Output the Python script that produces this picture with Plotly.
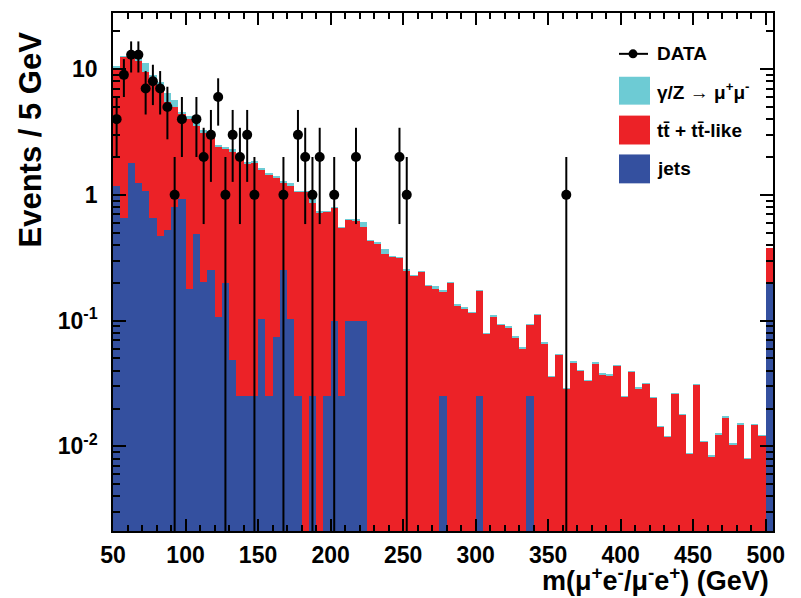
import numpy as np
import plotly.graph_objects as go

# ---- data (5 GeV bins from 50 to 505 GeV) ----
bin_low = list(range(50, 505, 5))

# top of full stack (jets + ttbar + DY)
total = [10.5, 12.8, 13.1, 12.5, 11.2, 9.0, 7.9, 6.4, 5.7, 4.6,
         4.2, 3.7, 3.3, 3.1, 2.5, 2.4, 2.3, 2.0, 1.84, 1.87,
         1.63, 1.49, 1.40, 1.28, 1.25, 1.07, 1.08, 0.92, 0.74, 0.74,
         0.80, 0.56, 0.64, 0.64, 0.61, 0.44, 0.42, 0.37, 0.326, 0.32,
         0.256, 0.232, 0.247, 0.191, 0.188, 0.174, 0.202, 0.135, 0.128, 0.118,
         0.176, 0.080, 0.110, 0.094, 0.090, 0.075, 0.062, 0.094, 0.113, 0.067,
         0.0365, 0.0547, 0.029, 0.0476, 0.0405, 0.0338, 0.0466, 0.038, 0.0375, 0.0445,
         0.0253, 0.040, 0.0294, 0.0322, 0.0249, 0.0146, 0.0122, 0.0268, 0.0182, 0.0089,
         0.0314, 0.0111, 0.0085, 0.0128, 0.0175, 0.0106, 0.0153, 0.0081, 0.0151, 0.0123,
         0.38]

# top of jets + ttbar stack
red_top = [10.0, 12.5, 12.8, 11.5, 9.5, 8.0, 6.8, 5.5, 5.0, 4.4,
           4.0, 3.5, 3.1, 3.0, 2.4, 2.3, 2.2, 1.95, 1.75, 1.8,
           1.58, 1.45, 1.36, 1.24, 1.18, 1.05, 1.05, 0.86, 0.72, 0.73,
           0.79, 0.55, 0.63, 0.62, 0.56, 0.43, 0.41, 0.336, 0.32, 0.315,
           0.25, 0.228, 0.243, 0.187, 0.180, 0.170, 0.198, 0.131, 0.124, 0.114,
           0.171, 0.078, 0.107, 0.092, 0.088, 0.073, 0.060, 0.092, 0.110, 0.065,
           0.0355, 0.0533, 0.0284, 0.0464, 0.0395, 0.0328, 0.0452, 0.0368, 0.0365, 0.0433,
           0.0247, 0.0388, 0.0286, 0.0314, 0.0243, 0.0142, 0.0118, 0.0260, 0.0177, 0.0087,
           0.0306, 0.0108, 0.0083, 0.0124, 0.0168, 0.0103, 0.0148, 0.0079, 0.0147, 0.0120,
           0.38]

# jets contribution
jets = [1.17, 0.66, 1.8, 1.24, 1.08, 0.66, 0.47, 0.53, 0.80, 0.92,
        0.178, 0.49, 0.203, 0.254, 0.106, 0.2, 0.049, 0.025, 0.025, 0.025,
        0.103, 0.025, 0.074, 0.254, 0.103, 0.025, 0, 0.025, 0, 0.025,
        0.1, 0.025, 0.1, 0.1, 0.1, 0, 0, 0, 0, 0,
        0, 0, 0, 0, 0, 0.025, 0, 0, 0, 0,
        0.025, 0, 0, 0, 0, 0, 0, 0.025, 0, 0,
        0, 0, 0, 0, 0, 0, 0, 0, 0, 0,
        0, 0, 0, 0, 0, 0, 0, 0, 0, 0,
        0, 0, 0, 0, 0, 0, 0, 0, 0, 0,
        0.2]

# observed events per bin
data = [4, 9, 13, 13, 7, 8, 7, 5, 1, 4,
        0, 4, 2, 3, 6, 1, 3, 2, 3, 1,
        0, 0, 0, 1, 0, 3, 2, 1, 2, 0,
        1, 0, 0, 2, 0, 0, 0, 0, 0, 2,
        1] + [0] * 21 + [1] + [0] * 28

x_ticks = [50, 100, 150, 200, 250, 300, 350, 400, 450, 500]
y_tickvals = [0.01, 0.1, 1, 10]
y_ticktext = ["10<sup>-2</sup>", "10<sup>-1</sup>", "1", "10"]

# ---- styling ----
C_DY = "#6dcbd4"
C_TT = "#ec2227"
C_JETS = "#34509f"
FONT = "Liberation Sans"

centers = [b + 2.5 for b in bin_low]

fig = go.Figure()
for vals, col in [(total, C_DY), (red_top, C_TT), (jets, C_JETS)]:
    fig.add_trace(go.Bar(x=centers, y=vals, width=5, marker=dict(color=col, line=dict(width=0)),
                         showlegend=False, hoverinfo="skip"))

dx, dy, eplus, eminus = [], [], [], []
for c, n in zip(centers, data):
    if n > 0:
        dx.append(c)
        dy.append(n)
        eplus.append(np.sqrt(n))
        eminus.append(min(np.sqrt(n), n - 1e-4))
fig.add_trace(go.Scatter(x=dx, y=dy, mode="markers",
                         marker=dict(color="black", size=10),
                         error_y=dict(type="data", array=eplus, arrayminus=eminus,
                                      color="black", thickness=2, width=0),
                         showlegend=False, hoverinfo="skip"))

W, H = 801, 598
L, R, T, B = 113, 28, 11, 67
PW, PH = W - L - R, H - T - B


def px(x):
    return (x - L) / PW


def py(y):
    return (H - B - y) / PH


shapes = []
annotations = []
# legend: DATA
shapes.append(dict(type="line", xref="paper", yref="paper", x0=px(619), x1=px(648), y0=py(52), y1=py(52),
                   line=dict(color="black", width=2)))
shapes.append(dict(type="circle", xref="paper", yref="paper", x0=px(628.5), x1=px(637.5), y0=py(56.5), y1=py(47.5),
                   fillcolor="black", line=dict(color="black", width=0)))
for (y0, y1, col) in [(75, 103, C_DY), (114, 143, C_TT), (153, 182, C_JETS)]:
    shapes.append(dict(type="rect", xref="paper", yref="paper", x0=px(619), x1=px(650), y0=py(y1), y1=py(y0),
                       fillcolor=col, line=dict(width=0)))
for text, yc in [("DATA", 52), ("γ/Z → μ<sup>+</sup>μ<sup>-</sup>", 89),
                 ("tt\u0304 + tt\u0304-like", 129), ("jets", 167)]:
    annotations.append(dict(xref="paper", yref="paper", x=px(655), y=py(yc), xanchor="left", yanchor="middle",
                            text=text, showarrow=False,
                            font=dict(family=FONT, size=19, color="black", weight="bold")))

annotations.append(dict(xref="paper", yref="paper", x=px(31), y=py(138), text="Events / 5 GeV",
                        textangle=-90, showarrow=False, xanchor="center", yanchor="middle",
                        font=dict(family=FONT, size=31, color="black", weight="bold")))
annotations.append(dict(xref="paper", yref="paper", x=px(771), y=py(579),
                        text="m(μ<sup>+</sup>e<sup>-</sup>/μ<sup>-</sup>e<sup>+</sup>) (GeV)",
                        showarrow=False, xanchor="right", yanchor="middle",
                        font=dict(family=FONT, size=27, color="black", weight="bold")))

minor_y = [m * 10 ** e for e in range(-3, 2) for m in range(2, 10)]

fig.update_layout(
    width=W, height=H, margin=dict(l=L, r=R, t=T, b=B, pad=0),
    paper_bgcolor="white", plot_bgcolor="white",
    barmode="overlay", bargap=0,
    shapes=shapes, annotations=annotations,
    xaxis=dict(range=[50, 505], tickvals=x_ticks, ticks="inside", ticklen=12, tickwidth=1.5,
               tickcolor="black", showline=True, linecolor="black", linewidth=1.5, mirror="allticks",
               showgrid=False, zeroline=False, ticklabelstandoff=3,
               tickfont=dict(family=FONT, size=23, color="black", weight="bold"),
               minor=dict(dtick=10, tick0=50, ticks="inside", ticklen=6, tickwidth=1.5,
                          tickcolor="black", showgrid=False)),
    yaxis=dict(type="log", range=[-2.673, 1.446], tickvals=y_tickvals, ticktext=y_ticktext,
               ticks="inside", ticklen=13, tickwidth=1.5, tickcolor="black",
               showline=True, linecolor="black", linewidth=1.5, mirror="allticks",
               showgrid=False, zeroline=False, ticklabelstandoff=9,
               tickfont=dict(family=FONT, size=23, color="black", weight="bold"),
               minor=dict(tickvals=minor_y, ticks="inside", ticklen=7, tickwidth=1.5,
                          tickcolor="black", showgrid=False)),
)

fig.write_html("out.html")
